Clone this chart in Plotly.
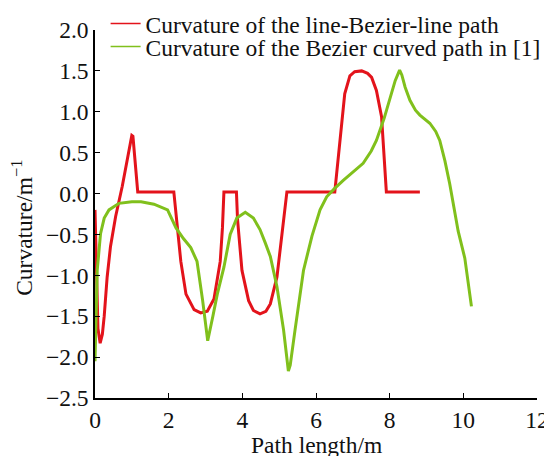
import plotly.graph_objects as go

# Red: curvature of the line-Bezier-line path
red_x = [0.0, 0.02, 0.04, 0.08, 0.14, 0.2, 0.25, 0.33, 0.42, 0.56, 0.74, 1.0, 1.03, 1.16, 2.14,
         2.23, 2.33, 2.47, 2.69, 2.87, 3.05, 3.23, 3.40, 3.46, 3.50, 3.84, 3.87, 3.99, 4.17, 4.30,
         4.48, 4.64, 4.76, 4.94, 5.07, 5.21, 6.51, 6.65, 6.78, 6.92, 7.05, 7.24, 7.40, 7.51, 7.64,
         7.78, 7.91, 8.82]
red_y = [-0.2, -0.6, -1.2, -1.65, -1.83, -1.72, -1.5, -1.02, -0.65, -0.28, 0.09, 0.71, 0.70, 0.02, 0.02,
         -0.42, -0.83, -1.23, -1.42, -1.46, -1.44, -1.29, -0.83, -0.42, 0.02, 0.02, -0.32, -0.94, -1.31, -1.43,
         -1.47, -1.44, -1.35, -1.02, -0.52, 0.02, 0.02, 0.65, 1.22, 1.44, 1.49, 1.50, 1.47, 1.42, 1.26,
         0.94, 0.02, 0.02]

# Green: curvature of the Bezier curved path in [1]
green_x = [0.0, 0.02, 0.06, 0.15, 0.25, 0.38, 0.65, 1.0, 1.25, 1.6, 1.97, 2.2, 2.4, 2.6, 2.77,
           2.92, 3.06, 3.2, 3.32, 3.5, 3.67, 3.85, 4.08, 4.3, 4.48, 4.62, 4.76, 4.94, 5.12, 5.25,
           5.30, 5.43, 5.66, 5.89, 6.11, 6.29, 6.5, 6.74, 7.0, 7.28, 7.5, 7.64, 7.85, 8.0, 8.15,
           8.27, 8.33, 8.42, 8.55, 8.7, 8.82, 9.09, 9.25, 9.36, 9.5, 9.63, 9.86, 10.04, 10.22]
green_y = [-2.05, -1.6, -0.94, -0.49, -0.3, -0.2, -0.12, -0.1, -0.1, -0.13, -0.2, -0.42, -0.55, -0.66, -0.83,
           -1.3, -1.80, -1.5, -1.23, -0.9, -0.5, -0.3, -0.23, -0.3, -0.44, -0.6, -0.77, -1.14, -1.67, -2.17,
           -2.1, -1.67, -0.94, -0.52, -0.2, -0.04, 0.06, 0.16, 0.26, 0.37, 0.52, 0.65, 0.92, 1.14, 1.38,
           1.51, 1.45, 1.3, 1.14, 1.02, 0.96, 0.86, 0.76, 0.65, 0.4, 0.12, -0.46, -0.79, -1.38]

names = ["Curvature of the line-Bezier-line path", "Curvature of the Bezier curved path in [1]"]
colors = ["#e3131b", "#80c01c"]

x_ticks = [0, 2, 4, 6, 8, 10, 12]
y_ticks = [-2.5, -2.0, -1.5, -1.0, -0.5, 0.0, 0.5, 1.0, 1.5, 2.0]
x_title = "Path length/m"
y_title = "Curvature/m<sup>\u22121</sup>"

FONT = "Liberation Serif, Times New Roman, serif"
FS = 23.5
TXT = "#111111"

fig = go.Figure()
fig.add_trace(go.Scatter(x=red_x, y=red_y, mode="lines", line=dict(color=colors[0], width=3),
                         showlegend=False, cliponaxis=False))
fig.add_trace(go.Scatter(x=green_x, y=green_y, mode="lines", line=dict(color=colors[1], width=3),
                         showlegend=False, cliponaxis=False))
# thin legend samples, each in its own legend so the row spacing can match
legend_ids = ["legend", "legend2"]
for n, c, lg in zip(names, colors, legend_ids):
    fig.add_trace(go.Scatter(x=[None], y=[None], mode="lines", name=n, legend=lg,
                             line=dict(color=c, width=1.5)))

leg_common = dict(xanchor="left", yanchor="top", bgcolor="rgba(0,0,0,0)",
                  font=dict(family=FONT, size=FS, color=TXT), itemwidth=30)

fig.update_layout(
    width=552, height=456,
    margin=dict(l=86.5, r=22.5, t=21.5, b=66, autoexpand=False),
    paper_bgcolor="white", plot_bgcolor="white",
    font=dict(family=FONT, size=FS, color=TXT),
    legend=dict(x=0.024, y=1.077, **leg_common),
    legend2=dict(x=0.024, y=1.0146, **leg_common),
    xaxis=dict(range=[0, 12], tickvals=x_ticks, ticks="inside", ticklen=5, tickwidth=1.2,
               tickcolor="black", showline=True, linecolor="black", linewidth=1.5,
               showgrid=False, zeroline=False, mirror=False, automargin=False,
               tickfont=dict(size=FS)),
    yaxis=dict(range=[-2.5, 2.0], tickvals=y_ticks, tickformat=".1f", ticks="inside", ticklen=5,
               tickwidth=1.2, tickcolor="black", showline=True, linecolor="black", linewidth=1.5,
               showgrid=False, zeroline=False, mirror=False, automargin=False,
               tickfont=dict(size=FS)),
    annotations=[
        dict(text=x_title, xref="paper", yref="paper", x=0.5, y=-0.1275,
             xanchor="center", yanchor="middle", showarrow=False,
             font=dict(family=FONT, size=FS, color=TXT)),
        dict(text=y_title, xref="paper", yref="paper", x=0, xshift=-72.5, y=0.461,
             xanchor="center", yanchor="middle", textangle=-90, showarrow=False,
             font=dict(family=FONT, size=FS, color=TXT)),
    ],
)

fig.write_html("out.html")
